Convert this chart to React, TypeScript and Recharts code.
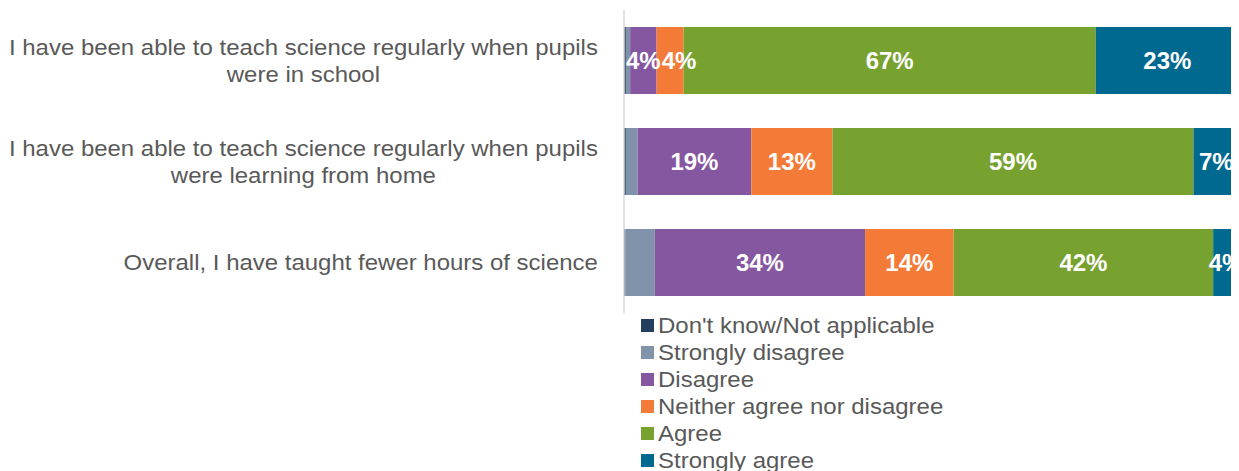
import React from "react";
import { BarChart, Bar, XAxis, YAxis, LabelList } from "recharts";

if (typeof document !== "undefined") {
  document.documentElement.style.overflow = "hidden";
  document.body.style.overflow = "hidden";
}

const categories = [
  "I have been able to teach science regularly when pupils were in school",
  "I have been able to teach science regularly when pupils were learning from home",
  "Overall, I have taught fewer hours of science",
];
const seriesNames = [
  "Don't know/Not applicable",
  "Strongly disagree",
  "Disagree",
  "Neither agree nor disagree",
  "Agree",
  "Strongly agree",
];
const seriesKeys = ["dk", "sd", "d", "n", "a", "sa"];
const seriesColors = ["#243F5C", "#8093AA", "#8557A1", "#F37B37", "#78A22F", "#00698F"];
const showLabels = [false, false, true, true, true, true];

const dkValues = [0.3, 0.3, 0.2];
const sdValues = [0.7, 1.9, 4.8];
const dValues = [4.3, 18.5, 34.2];
const nValues = [4.4, 13.2, 14.4];
const aValues = [67.0, 58.7, 42.2];
const saValues = [23.3, 7.4, 4.2];

const valueArrays = [dkValues, sdValues, dValues, nValues, aValues, saValues];

const data = categories.map((name, i) => {
  const row: any = { name };
  seriesKeys.forEach((k, j) => {
    row[k] = valueArrays[j][i];
  });
  return row;
});

const FONT = "'Liberation Sans', Arial, sans-serif";
const TXT_SIZE = 22;
const STRETCH = 1.09;

let ctx: CanvasRenderingContext2D | null = null;
function getCtx() {
  if (!ctx) {
    const c = document.createElement("canvas");
    ctx = c.getContext("2d");
  }
  return ctx;
}
function measure(t: string): number {
  const c = getCtx();
  if (!c) return t.length * 11;
  c.font = `${TXT_SIZE}px 'Liberation Sans', Arial, sans-serif`;
  return c.measureText(t).width * STRETCH;
}
function measureBold(t: string): number {
  const c = getCtx();
  if (!c) return t.length * 13;
  c.font = `bold 24px 'Liberation Sans', Arial, sans-serif`;
  return c.measureText(t).width;
}

function wrap(text: string, maxW: number): string[] {
  const words = text.split(" ");
  const lines: string[] = [];
  let cur = "";
  for (const w of words) {
    const test = cur ? cur + " " + w : w;
    if (measure(test) > maxW && cur) {
      lines.push(cur);
      cur = w;
    } else {
      cur = test;
    }
  }
  if (cur) lines.push(cur);
  return lines;
}

const CategoryTick = (props: any) => {
  const { y, payload } = props;
  const lines = wrap(String(payload.value), 600);
  const widths = lines.map(measure);
  const blockW = Math.max(...widths);
  const right = 590;
  const cx = right - blockW / 2;
  const lh = 27;
  const startY = y - ((lines.length - 1) * lh) / 2;
  return (
    <g>
      {lines.map((l, i) => (
        <text
          key={i}
          transform={`translate(${cx},${startY + i * lh}) scale(${STRETCH},1)`}
          x={0}
          y={0}
          textAnchor="middle"
          dominantBaseline="central"
          fontFamily={FONT}
          fontSize={TXT_SIZE}
          fill="#595959"
        >
          {l}
        </text>
      ))}
    </g>
  );
};

const fmt = (v: number) => Math.round(v) + "%";

const makeLabel = (j: number) => (props: any) => {
  const { x, y, width, height, value, index } = props;
  const txt = fmt(value);
  let cx = x + width / 2;
  // avoid colliding with the previous labelled segment's label
  if (j > 0 && showLabels[j - 1] && value > 0) {
    const pxPerUnit = width / value;
    const prevVal = valueArrays[j - 1][index];
    const prevCenter = x - (prevVal * pxPerUnit) / 2;
    const prevRight = prevCenter + measureBold(fmt(prevVal)) / 2;
    const myW = measureBold(txt);
    if (cx - myW / 2 < prevRight + 1) cx = prevRight + 1 + myW / 2;
  }
  return (
    <text
      x={cx}
      y={y + height / 2}
      textAnchor="middle"
      dominantBaseline="central"
      fill="#FFFFFF"
      fontFamily={FONT}
      fontWeight="bold"
      fontSize={24}
    >
      {txt}
    </text>
  );
};

export default function App() {
  return (
    <div style={{ position: "relative", width: 1231, height: 463 }}>
      <BarChart
        width={1231}
        height={463}
        data={data}
        layout="vertical"
        margin={{ top: 2, right: 0, bottom: 158, left: 0 }}
        barCategoryGap={34}
      >
        <XAxis type="number" domain={[0, 100]} hide />
        <YAxis
          type="category"
          dataKey="name"
          width={616}
          axisLine={{ stroke: "#D9D9D9", strokeWidth: 1.5 }}
          tickLine={false}
          tick={<CategoryTick />}
          interval={0}
        />
        {seriesKeys.map((k, j) => (
          <Bar
            key={k}
            dataKey={k}
            name={seriesNames[j]}
            stackId="s"
            fill={seriesColors[j]}
            barSize={67}
            isAnimationActive={false}
          >
            {showLabels[j] && <LabelList dataKey={k} content={makeLabel(j)} />}
          </Bar>
        ))}
      </BarChart>
      <div
        style={{
          position: "absolute",
          left: 633,
          top: 304,
          fontFamily: FONT,
          fontSize: TXT_SIZE,
          color: "#595959",
        }}
      >
        {seriesNames.map((n, j) => (
          <div
            key={n}
            style={{ display: "flex", alignItems: "center", height: 27, whiteSpace: "nowrap" }}
          >
            <span
              style={{
                display: "inline-block",
                width: 13,
                height: 13,
                background: seriesColors[j],
                marginRight: 4,
                flex: "none",
              }}
            />
            <span
              style={{
                display: "inline-block",
                transform: `scaleX(${STRETCH})`,
                transformOrigin: "left center",
              }}
            >
              {n}
            </span>
          </div>
        ))}
      </div>
    </div>
  );
}
